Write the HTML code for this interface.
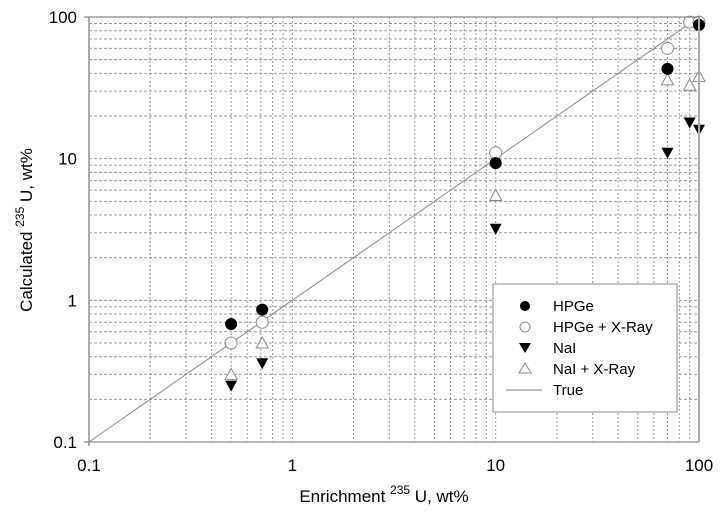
<!DOCTYPE html>
<html><head><meta charset="utf-8"><style>
body{margin:0;background:#fff;}
svg{font-family:"Liberation Sans",Arial,sans-serif;}
</style></head><body>
<svg id="chart" width="720" height="526" viewBox="0 0 720 526">
<g id="grid"></g>
<g id="marks"></g>
<g id="axes"></g>
<text x="384" y="502" font-size="17" text-anchor="middle">Enrichment  <tspan font-size="12" dy="-8">235</tspan><tspan dy="8"> U, wt%</tspan></text>
<text transform="translate(32,230) rotate(-90)" font-size="17" text-anchor="middle">Calculated <tspan font-size="12" dy="-8">235</tspan><tspan dy="8"> U, wt%</tspan></text>
<g>
<rect x="493" y="284" width="184" height="128" fill="#fff" stroke="#888" stroke-width="1"/>
<circle cx="525" cy="306" r="5" fill="#000"/>
<text x="553" y="311" font-size="15">HPGe</text>
<circle cx="525" cy="327" r="5" fill="#fff" stroke="#888"/>
<text x="553" y="332" font-size="15">HPGe + X-Ray</text>
<polygon points="519,343 531,343 525,353" fill="#000"/>
<text x="553" y="353" font-size="15">NaI</text>
<polygon points="519,373 531,373 525,363" fill="#fff" stroke="#888"/>
<text x="553" y="374" font-size="15">NaI + X-Ray</text>
<line x1="506" y1="390" x2="542" y2="390" stroke="#aaa" stroke-width="1.5"/>
<text x="553" y="395" font-size="15">True</text>
</g>
</svg>
<script>
const tickValues=[0.1,1,10,100];
const tickLabels=["0.1","1","10","100"];
const xHPGe=[0.5,0.711,10,70,100];
const yHPGe=[0.68,0.86,9.3,43,88];
const xHPGeX=[0.5,0.711,10,70,90,100];
const yHPGeX=[0.5,0.7,11,60,92,92];
const xNaI=[0.5,0.711,10,70,90,100];
const yNaI=[0.25,0.36,3.2,11,18,16];
const xNaIX=[0.5,0.711,10,70,90,100];
const yNaIX=[0.3,0.5,5.5,36,33,38];
const trueLine=[0.1,100];

const L=89,R=699,T=17,B=442;
const X=v=>L+(Math.log10(v)+1)/3*(R-L);
const Y=v=>B-(Math.log10(v)+1)/3*(B-T);
const NS="http://www.w3.org/2000/svg";
function mk(tag,parent,attrs){const e=document.createElementNS(NS,tag);for(const k in attrs)e.setAttribute(k,attrs[k]);parent.appendChild(e);return e;}
const grid=document.getElementById('grid'),marks=document.getElementById('marks'),axes=document.getElementById('axes');
for(let d=0;d<3;d++){for(let m=1;m<=9;m++){const v=Math.pow(10,d-1)*m;if(d===0&&m===1)continue;
 let e=mk('line',grid,{x1:X(v),x2:X(v),y1:T,y2:B,stroke:'#999','stroke-width':1,'stroke-dasharray':'2,2'});
 
 
 e=mk('line',grid,{x1:L,x2:R,y1:Y(v),y2:Y(v),stroke:'#999','stroke-width':1,'stroke-dasharray':'3,2'});
 
 }}
let a=mk('line',axes,{x1:L,x2:L,y1:T,y2:B+4,stroke:'#aaa','stroke-width':2});


a=mk('line',axes,{x1:L-5,x2:R,y1:B,y2:B,stroke:'#888','stroke-width':1.3});


a=mk('line',axes,{x1:L-5,x2:R,y1:T,y2:T,stroke:'#888','stroke-width':1.3});


a=mk('line',axes,{x1:R,x2:R,y1:T,y2:B,stroke:'#aaa','stroke-width':2});


tickValues.forEach((v,i)=>{
 let t=mk('text',axes,{x:X(v),y:B+29,'font-size':17,'text-anchor':'middle'});t.textContent=tickLabels[i];
 
 
 t=mk('text',axes,{x:L-12,y:Y(v)+6,'font-size':17,'text-anchor':'end'});t.textContent=tickLabels[i];
 
 
});
let tl=mk('line',marks,{x1:X(trueLine[0]),y1:Y(trueLine[0]),x2:X(trueLine[1]),y2:Y(trueLine[1]),stroke:'#888','stroke-width':1});


function tri(x,y,down){return down?`${x-6},${y-5} ${x+6},${y-5} ${x},${y+6}`:`${x-6},${y+5} ${x+6},${y+5} ${x},${y-6}`;}
xNaIX.forEach((v,i)=>{const e=mk('polygon',marks,{points:tri(X(v),Y(yNaIX[i]),false),fill:'#fff',stroke:'#888'});
 
 });
xNaI.forEach((v,i)=>{const e=mk('polygon',marks,{points:tri(X(v),Y(yNaI[i]),true),fill:'#000'});
 
 });
xHPGeX.forEach((v,i)=>{const e=mk('circle',marks,{cx:X(v),cy:Y(yHPGeX[i]),r:6,fill:'#fff',stroke:'#888'});
 
 });
xHPGe.forEach((v,i)=>{const e=mk('circle',marks,{cx:X(v),cy:Y(yHPGe[i]),r:6,fill:'#000'});
 
 });
</script>
</body></html>
